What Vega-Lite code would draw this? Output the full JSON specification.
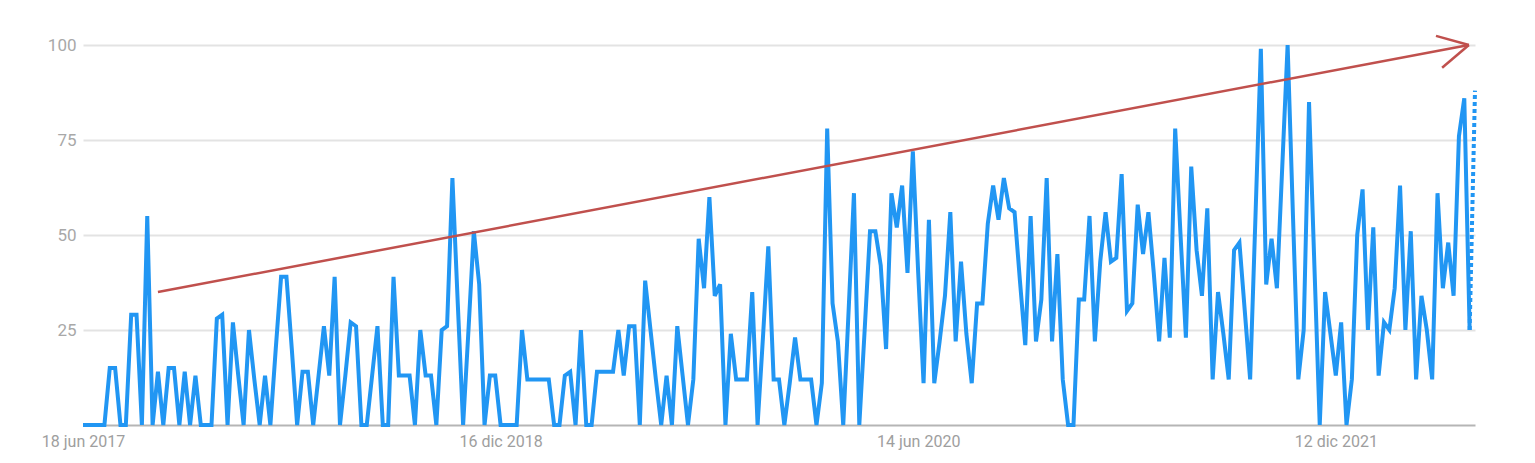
{
  "$schema": "https://vega.github.io/schema/vega-lite/v6.json",
  "autosize": {"type": "none"},
  "padding": {"left": 83, "top": 45, "right": 60, "bottom": 38},
  "width": 1392,
  "height": 380,
  "background": "white",
  "config": {"view": {"stroke": null}, "font": "Roboto"},
  "datasets": {
    "trend": [
      {"d":"2017-06-18","v":0},{"d":"2017-06-25","v":0},{"d":"2017-07-02","v":0},{"d":"2017-07-09","v":0},{"d":"2017-07-16","v":0},
      {"d":"2017-07-23","v":15},{"d":"2017-07-30","v":15},{"d":"2017-08-06","v":0},{"d":"2017-08-13","v":0},{"d":"2017-08-20","v":29},
      {"d":"2017-08-27","v":29},{"d":"2017-09-03","v":0},{"d":"2017-09-10","v":55},{"d":"2017-09-17","v":0},{"d":"2017-09-24","v":14},
      {"d":"2017-10-01","v":0},{"d":"2017-10-08","v":15},{"d":"2017-10-15","v":15},{"d":"2017-10-22","v":0},{"d":"2017-10-29","v":14},
      {"d":"2017-11-05","v":0},{"d":"2017-11-12","v":13},{"d":"2017-11-19","v":0},{"d":"2017-11-26","v":0},{"d":"2017-12-03","v":0},
      {"d":"2017-12-10","v":28},{"d":"2017-12-17","v":29},{"d":"2017-12-24","v":0},{"d":"2017-12-31","v":27},{"d":"2018-01-07","v":13},
      {"d":"2018-01-14","v":0},{"d":"2018-01-21","v":25},{"d":"2018-01-28","v":12},{"d":"2018-02-04","v":0},{"d":"2018-02-11","v":13},
      {"d":"2018-02-18","v":0},{"d":"2018-02-25","v":20},{"d":"2018-03-04","v":39},{"d":"2018-03-11","v":39},{"d":"2018-03-18","v":20},
      {"d":"2018-03-25","v":0},{"d":"2018-04-01","v":14},{"d":"2018-04-08","v":14},{"d":"2018-04-15","v":0},{"d":"2018-04-22","v":13},
      {"d":"2018-04-29","v":26},{"d":"2018-05-06","v":13},{"d":"2018-05-13","v":39},{"d":"2018-05-20","v":0},{"d":"2018-05-27","v":13},
      {"d":"2018-06-03","v":27},{"d":"2018-06-10","v":26},{"d":"2018-06-17","v":0},{"d":"2018-06-24","v":0},{"d":"2018-07-01","v":13},
      {"d":"2018-07-08","v":26},{"d":"2018-07-15","v":0},{"d":"2018-07-22","v":0},{"d":"2018-07-29","v":39},{"d":"2018-08-05","v":13},
      {"d":"2018-08-12","v":13},{"d":"2018-08-19","v":13},{"d":"2018-08-26","v":0},{"d":"2018-09-02","v":25},{"d":"2018-09-09","v":13},
      {"d":"2018-09-16","v":13},{"d":"2018-09-23","v":0},{"d":"2018-09-30","v":25},{"d":"2018-10-07","v":26},{"d":"2018-10-14","v":65},
      {"d":"2018-10-21","v":32},{"d":"2018-10-28","v":0},{"d":"2018-11-04","v":25},{"d":"2018-11-11","v":51},{"d":"2018-11-18","v":37},
      {"d":"2018-11-25","v":0},{"d":"2018-12-02","v":13},{"d":"2018-12-09","v":13},{"d":"2018-12-16","v":0},{"d":"2018-12-23","v":0},
      {"d":"2018-12-30","v":0},{"d":"2019-01-06","v":0},{"d":"2019-01-13","v":25},{"d":"2019-01-20","v":12},{"d":"2019-01-27","v":12},
      {"d":"2019-02-03","v":12},{"d":"2019-02-10","v":12},{"d":"2019-02-17","v":12},{"d":"2019-02-24","v":0},{"d":"2019-03-03","v":0},
      {"d":"2019-03-10","v":13},{"d":"2019-03-17","v":14},{"d":"2019-03-24","v":0},{"d":"2019-03-31","v":25},{"d":"2019-04-07","v":0},
      {"d":"2019-04-14","v":0},{"d":"2019-04-21","v":14},{"d":"2019-04-28","v":14},{"d":"2019-05-05","v":14},{"d":"2019-05-12","v":14},
      {"d":"2019-05-19","v":25},{"d":"2019-05-26","v":13},{"d":"2019-06-02","v":26},{"d":"2019-06-09","v":26},{"d":"2019-06-16","v":0},
      {"d":"2019-06-23","v":38},{"d":"2019-06-30","v":25},{"d":"2019-07-07","v":12},{"d":"2019-07-14","v":0},{"d":"2019-07-21","v":13},
      {"d":"2019-07-28","v":0},{"d":"2019-08-04","v":26},{"d":"2019-08-11","v":13},{"d":"2019-08-18","v":0},{"d":"2019-08-25","v":12},
      {"d":"2019-09-01","v":49},{"d":"2019-09-08","v":36},{"d":"2019-09-15","v":60},{"d":"2019-09-22","v":34},{"d":"2019-09-29","v":37},
      {"d":"2019-10-06","v":0},{"d":"2019-10-13","v":24},{"d":"2019-10-20","v":12},{"d":"2019-10-27","v":12},{"d":"2019-11-03","v":12},
      {"d":"2019-11-10","v":35},{"d":"2019-11-17","v":0},{"d":"2019-11-24","v":23},{"d":"2019-12-01","v":47},{"d":"2019-12-08","v":12},
      {"d":"2019-12-15","v":12},{"d":"2019-12-22","v":0},{"d":"2019-12-29","v":11},{"d":"2020-01-05","v":23},{"d":"2020-01-12","v":12},
      {"d":"2020-01-19","v":12},{"d":"2020-01-26","v":12},{"d":"2020-02-02","v":0},{"d":"2020-02-09","v":11},{"d":"2020-02-16","v":78},
      {"d":"2020-02-23","v":32},{"d":"2020-03-01","v":22},{"d":"2020-03-08","v":0},{"d":"2020-03-15","v":30},{"d":"2020-03-22","v":61},
      {"d":"2020-03-29","v":0},{"d":"2020-04-05","v":25},{"d":"2020-04-12","v":51},{"d":"2020-04-19","v":51},{"d":"2020-04-26","v":42},
      {"d":"2020-05-03","v":20},{"d":"2020-05-10","v":61},{"d":"2020-05-17","v":52},{"d":"2020-05-24","v":63},{"d":"2020-05-31","v":40},
      {"d":"2020-06-07","v":72},{"d":"2020-06-14","v":40},{"d":"2020-06-21","v":11},{"d":"2020-06-28","v":54},{"d":"2020-07-05","v":11},
      {"d":"2020-07-12","v":22},{"d":"2020-07-19","v":34},{"d":"2020-07-26","v":56},{"d":"2020-08-02","v":22},{"d":"2020-08-09","v":43},
      {"d":"2020-08-16","v":24},{"d":"2020-08-23","v":11},{"d":"2020-08-30","v":32},{"d":"2020-09-06","v":32},{"d":"2020-09-13","v":53},
      {"d":"2020-09-20","v":63},{"d":"2020-09-27","v":54},{"d":"2020-10-04","v":65},{"d":"2020-10-11","v":57},{"d":"2020-10-18","v":56},
      {"d":"2020-10-25","v":38},{"d":"2020-11-01","v":21},{"d":"2020-11-08","v":55},{"d":"2020-11-15","v":22},{"d":"2020-11-22","v":33},
      {"d":"2020-11-29","v":65},{"d":"2020-12-06","v":22},{"d":"2020-12-13","v":45},{"d":"2020-12-20","v":12},{"d":"2020-12-27","v":0},
      {"d":"2021-01-03","v":0},{"d":"2021-01-10","v":33},{"d":"2021-01-17","v":33},{"d":"2021-01-24","v":55},{"d":"2021-01-31","v":22},
      {"d":"2021-02-07","v":43},{"d":"2021-02-14","v":56},{"d":"2021-02-21","v":43},{"d":"2021-02-28","v":44},{"d":"2021-03-07","v":66},
      {"d":"2021-03-14","v":30},{"d":"2021-03-21","v":32},{"d":"2021-03-28","v":58},{"d":"2021-04-04","v":45},{"d":"2021-04-11","v":56},
      {"d":"2021-04-18","v":40},{"d":"2021-04-25","v":22},{"d":"2021-05-02","v":44},{"d":"2021-05-09","v":23},{"d":"2021-05-16","v":78},
      {"d":"2021-05-23","v":50},{"d":"2021-05-30","v":23},{"d":"2021-06-06","v":68},{"d":"2021-06-13","v":46},{"d":"2021-06-20","v":34},
      {"d":"2021-06-27","v":57},{"d":"2021-07-04","v":12},{"d":"2021-07-11","v":35},{"d":"2021-07-18","v":24},{"d":"2021-07-25","v":12},
      {"d":"2021-08-01","v":46},{"d":"2021-08-08","v":48},{"d":"2021-08-15","v":30},{"d":"2021-08-22","v":12},{"d":"2021-08-29","v":55},
      {"d":"2021-09-05","v":99},{"d":"2021-09-12","v":37},{"d":"2021-09-19","v":49},{"d":"2021-09-26","v":36},{"d":"2021-10-03","v":68},
      {"d":"2021-10-10","v":100},{"d":"2021-10-17","v":55},{"d":"2021-10-24","v":12},{"d":"2021-10-31","v":25},{"d":"2021-11-07","v":85},
      {"d":"2021-11-14","v":42},{"d":"2021-11-21","v":0},{"d":"2021-11-28","v":35},{"d":"2021-12-05","v":24},{"d":"2021-12-12","v":13},
      {"d":"2021-12-19","v":27},{"d":"2021-12-26","v":0},{"d":"2022-01-02","v":12},{"d":"2022-01-09","v":50},{"d":"2022-01-16","v":62},
      {"d":"2022-01-23","v":25},{"d":"2022-01-30","v":52},{"d":"2022-02-06","v":13},{"d":"2022-02-13","v":27},{"d":"2022-02-20","v":25},
      {"d":"2022-02-27","v":36},{"d":"2022-03-06","v":63},{"d":"2022-03-13","v":25},{"d":"2022-03-20","v":51},{"d":"2022-03-27","v":12},
      {"d":"2022-04-03","v":34},{"d":"2022-04-10","v":25},{"d":"2022-04-17","v":12},{"d":"2022-04-24","v":61},{"d":"2022-05-01","v":36},
      {"d":"2022-05-08","v":48},{"d":"2022-05-15","v":34},{"d":"2022-05-22","v":76},{"d":"2022-05-29","v":86},{"d":"2022-06-05","v":25},
      {"d":"2022-06-12","v":88}
    ],
    "arrow": [
      {"a":"2017-09-24","av":35,"b":"2022-06-04","bv":100},
      {"a":"2022-04-22","av":102.4,"b":"2022-06-04","bv":100},
      {"a":"2022-04-30","av":94,"b":"2022-06-04","bv":100}
    ]
  },
  "layer": [
    {
      "data": {"name": "trend"},
      "transform": [{"filter": "time(datum.d) <= time('2022-06-05')"}],
      "mark": {"type": "line", "color": "#2196f3", "strokeWidth": 4},
      "encoding": {
        "x": {
          "field": "d", "type": "temporal",
          "scale": {"type": "utc", "nice": false},
          "axis": {
            "title": null,
            "values": [
              {"year": 2017, "month": 6, "date": 18, "utc": true},
              {"year": 2018, "month": 12, "date": 16, "utc": true},
              {"year": 2020, "month": 6, "date": 14, "utc": true},
              {"year": 2021, "month": 12, "date": 12, "utc": true}
            ],
            "labelExpr": "utcdate(datum.value) + ' ' + ['ene','feb','mar','abr','may','jun','jul','ago','sep','oct','nov','dic'][utcmonth(datum.value)] + ' ' + utcyear(datum.value)",
            "grid": false,
            "ticks": false,
            "domainColor": "#b5b5b5",
            "domainWidth": 2,
            "labelColor": "#9e9e9e",
            "labelFontSize": 16,
            "labelPadding": 8,
            "labelFlush": false
          }
        },
        "y": {
          "field": "v", "type": "quantitative",
          "scale": {"domain": [0, 100], "nice": false},
          "axis": {
            "title": null,
            "values": [25, 50, 75, 100],
            "domain": false,
            "ticks": false,
            "gridColor": "#e3e3e3",
            "gridWidth": 2,
            "labelColor": "#a8a8a8",
            "labelFontSize": 17,
            "labelPadding": 7
          }
        }
      }
    },
    {
      "data": {"name": "trend"},
      "transform": [{"filter": "time(datum.d) >= time('2022-06-05')"}],
      "mark": {"type": "line", "color": "#2196f3", "strokeWidth": 4, "strokeDash": [4, 3]},
      "encoding": {
        "x": {"field": "d", "type": "temporal"},
        "y": {"field": "v", "type": "quantitative"}
      }
    },
    {
      "data": {"name": "arrow"},
      "mark": {"type": "rule", "color": "#c0504d", "strokeWidth": 2.5},
      "encoding": {
        "x": {"field": "a", "type": "temporal"},
        "y": {"field": "av", "type": "quantitative"},
        "x2": {"field": "b"},
        "y2": {"field": "bv"}
      }
    }
  ]
}
